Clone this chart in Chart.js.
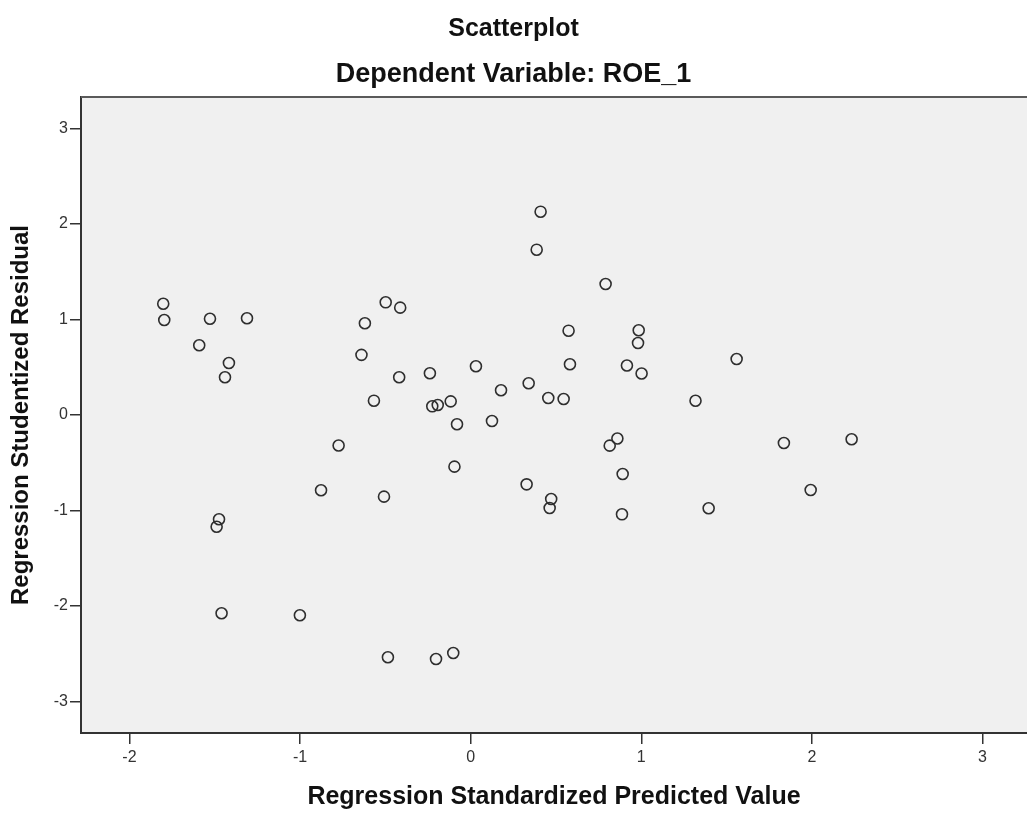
<!DOCTYPE html>
<html>
<head>
<meta charset="utf-8">
<script src="https://cdn.jsdelivr.net/npm/chart.js@4.4.1/dist/chart.umd.min.js"></script>
<style>
  html, body { margin: 0; padding: 0; background: #ffffff; overflow: hidden; }
  #wrap { position: relative; width: 1027px; height: 816px; }
</style>
</head>
<body>
<div id="wrap"><canvas id="c"></canvas></div>
<script>
// Regression Standardized Predicted Value (x) for each case
const predicted = [
  -1.802, -1.796, -1.528, -1.311, -1.591, -1.417, -1.440, -1.475, -1.489, -1.460,
  -1.001, -0.774, -0.877, -0.620, -0.498, -0.413, -0.640, -0.419, -0.567, -0.239,
  -0.225, -0.193, -0.117, -0.080, -0.095, -0.508, -0.485, -0.203, -0.102, 0.031,
  0.178, 0.125, 0.410, 0.387, 0.340, 0.455, 0.545, 0.328, 0.472, 0.463,
  0.574, 0.582, 0.791, 0.985, 0.981, 0.916, 1.002, 0.860, 0.815, 0.891,
  0.887, 1.318, 1.559, 1.395, 1.836, 1.993, 2.233
];
// Regression Studentized Residual (y) for each case
const residual = [
  1.165, 0.995, 1.008, 1.013, 0.730, 0.545, 0.395, -1.092, -1.170, -2.076,
  -2.097, -0.319, -0.788, 0.961, 1.180, 1.124, 0.630, 0.395, 0.150, 0.437,
  0.091, 0.105, 0.143, -0.097, -0.541, -0.855, -2.537, -2.555, -2.492, 0.510,
  0.259, -0.063, 2.129, 1.731, 0.332, 0.178, 0.168, -0.726, -0.880, -0.974,
  0.883, 0.531, 1.372, 0.888, 0.754, 0.518, 0.435, -0.246, -0.321, -0.618,
  -1.040, 0.149, 0.586, -0.977, -0.293, -0.785, -0.254
];
const xTickValues = [-2, -1, 0, 1, 2, 3];
const yTickValues = [-3, -2, -1, 0, 1, 2, 3];
const xRange = [-2.284, 3.261];
const yRange = [-3.33, 3.33];

const titleText = 'Scatterplot';
const subtitleText = 'Dependent Variable: ROE_1';
const xTitle = 'Regression Standardized Predicted Value';
const yTitle = 'Regression Studentized Residual';

const points = predicted.map((x, i) => ({ x: x, y: residual[i] }));

const frame = {
  id: 'frame',
  beforeDraw(chart) {
    const { ctx, chartArea: a } = chart;
    ctx.save();
    ctx.fillStyle = '#f0f0f0';
    ctx.fillRect(a.left, a.top, a.right - a.left, a.bottom - a.top);
    ctx.restore();
  },
  afterDraw(chart) {
    const { ctx, chartArea: a } = chart;
    ctx.save();
    ctx.strokeStyle = '#5a5a5a';
    ctx.lineWidth = 2;
    ctx.beginPath();
    ctx.moveTo(a.left, a.top);
    ctx.lineTo(a.right, a.top);
    ctx.stroke();
    ctx.restore();
  }
};

const FONT = "'Liberation Sans', Arial, Helvetica, sans-serif";

new Chart(document.getElementById('c'), {
  type: 'scatter',
  data: {
    datasets: [{
      data: points,
      pointStyle: 'circle',
      pointRadius: 5.5,
      pointHoverRadius: 5.5,
      borderWidth: 1.6,
      borderColor: '#2e2e2e',
      backgroundColor: 'rgba(0,0,0,0)'
    }]
  },
  options: {
    responsive: true,
    maintainAspectRatio: false,
    animation: false,
    devicePixelRatio: 1,
    layout: { autoPadding: false, padding: { left: 0, right: 0, top: 0, bottom: 0 } },
    plugins: {
      legend: { display: false },
      tooltip: { enabled: false },
      title: {
        display: true,
        text: titleText,
        color: '#111111',
        font: { family: FONT, size: 25, weight: 'bold', lineHeight: 1.2 },
        padding: { top: 14, bottom: 0 }
      },
      subtitle: {
        display: true,
        text: subtitleText,
        color: '#111111',
        font: { family: FONT, size: 27, weight: 'bold', lineHeight: 1.2 },
        padding: { top: 14, bottom: 6.6 }
      }
    },
    scales: {
      x: {
        type: 'linear',
        min: xRange[0],
        max: xRange[1],
        afterBuildTicks(scale) { scale.ticks = xTickValues.map(v => ({ value: v })); },
        afterFit(scale) { scale.height = 83; scale.paddingLeft = 0; scale.paddingRight = 0; },
        grid: { display: true, drawOnChartArea: false, drawTicks: true, tickLength: 11, color: '#333333', lineWidth: 1.5 },
        border: { display: true, color: '#333333', width: 2 },
        ticks: {
          color: '#333333',
          padding: 4,
          maxRotation: 0,
          font: { family: FONT, size: 16 },
          callback: (v) => String(v)
        },
        title: {
          display: true,
          text: xTitle,
          color: '#111111',
          font: { family: FONT, size: 25, weight: 'bold', lineHeight: 1.2 },
          padding: { top: 0, bottom: 4 }
        }
      },
      y: {
        type: 'linear',
        min: yRange[0],
        max: yRange[1],
        afterBuildTicks(scale) { scale.ticks = yTickValues.map(v => ({ value: v })); },
        afterFit(scale) { scale.width = 81; },
        grid: { display: true, drawOnChartArea: false, drawTicks: true, tickLength: 11, color: '#333333', lineWidth: 1.5 },
        border: { display: true, color: '#333333', width: 2 },
        ticks: {
          color: '#333333',
          padding: 2,
          font: { family: FONT, size: 16 },
          callback: (v) => String(v)
        },
        title: {
          display: true,
          text: yTitle,
          color: '#111111',
          font: { family: FONT, size: 24, weight: 'bold', lineHeight: 1.2 },
          padding: { top: 7, bottom: 0 }
        }
      }
    }
  },
  plugins: [frame]
});
</script>
</body>
</html>
